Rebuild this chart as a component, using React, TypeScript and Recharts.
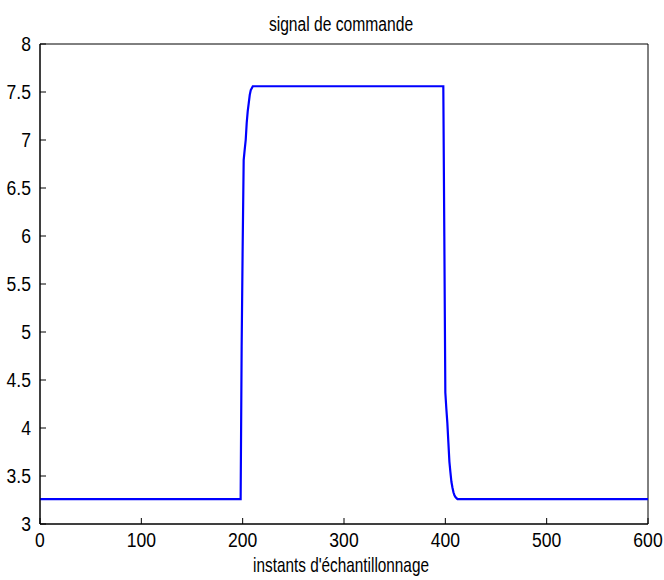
import React from 'react';
import { LineChart, Line, XAxis, YAxis, ReferenceArea } from 'recharts';

// sample instants (breakpoints of the control signal) and values
const sampleInstants = [
  0, 198, 199, 200, 201, 202, 203, 204, 205, 206, 207, 208, 209, 210,
  398, 399, 400, 401, 402, 403, 404, 405, 406, 407, 408, 409, 410, 411, 412, 600,
];
const commandValues = [
  3.26, 3.26, 4.85, 5.89, 6.79, 6.9, 7.0, 7.18, 7.3, 7.385, 7.47, 7.52, 7.54, 7.56,
  7.56, 6.0, 4.37, 4.2, 4.05, 3.85, 3.65, 3.54, 3.44, 3.38, 3.33, 3.3, 3.28, 3.27, 3.26, 3.26,
];
const xTicks = [0, 100, 200, 300, 400, 500, 600];
const yTicks = [3, 3.5, 4, 4.5, 5, 5.5, 6, 6.5, 7, 7.5, 8];
const chartTitle = 'signal de commande';
const xAxisTitle = "instants d'échantillonnage";

const data = sampleInstants.map((n, i) => ({ n, u: commandValues[i] }));

const FONT = "'Liberation Sans', Arial, sans-serif";
const AXIS = '#000';
const TICK_LEN = 6;
const M = 9;

const BottomTick = (p: any) => {
  const { x, y, payload } = p;
  return (
    <g>
      <line x1={x} y1={y - M} x2={x} y2={y - M - TICK_LEN} stroke={AXIS} />
      <text
        transform={`translate(${x},${y + 14}) scale(0.9,1)`}
        textAnchor="middle"
        fontFamily={FONT}
        fontSize={19.5}
        fill="#000"
      >
        {String(payload.value)}
      </text>
    </g>
  );
};

const LeftTick = (p: any) => {
  const { x, y, payload } = p;
  return (
    <g>
      <line x1={x + M} y1={y} x2={x + M + TICK_LEN} y2={y} stroke={AXIS} />
      <text
        transform={`translate(${x},${y + 7}) scale(0.9,1)`}
        textAnchor="end"
        fontFamily={FONT}
        fontSize={19.5}
        fill="#000"
      >
        {String(payload.value)}
      </text>
    </g>
  );
};

const TopTick = (p: any) => {
  const { x, y } = p;
  return <line x1={x} y1={y + M} x2={x} y2={y + M + TICK_LEN} stroke={AXIS} />;
};

const RightTick = (p: any) => {
  const { x, y } = p;
  return <line x1={x - M} y1={y} x2={x - M - TICK_LEN} y2={y} stroke={AXIS} />;
};

export default function App() {
  return (
    <div style={{ position: 'absolute', left: 0, top: 0, width: 664, height: 580, background: '#fff' }}>
      <LineChart
        width={664}
        height={580}
        data={data}
        margin={{ top: 44, right: 16, bottom: 26, left: 8 }}
      >
        <XAxis
          xAxisId="b"
          dataKey="n"
          type="number"
          domain={[0, 600]}
          ticks={xTicks}
          interval={0}
          allowDataOverflow
          height={30}
          tickSize={0}
          tickMargin={M}
          tickLine={false}
          axisLine={{ stroke: AXIS }}
          tick={(p: any) => <BottomTick {...p} />}
        />
        <XAxis
          xAxisId="t"
          orientation="top"
          dataKey="n"
          type="number"
          domain={[0, 600]}
          ticks={xTicks}
          interval={0}
          height={0}
          tickSize={0}
          tickMargin={M}
          tickLine={false}
          axisLine={{ stroke: AXIS }}
          tick={(p: any) => <TopTick {...p} />}
        />
        <YAxis
          yAxisId="l"
          type="number"
          domain={[3, 8]}
          ticks={yTicks}
          interval={0}
          allowDataOverflow
          width={32}
          tickSize={0}
          tickMargin={M}
          tickLine={false}
          axisLine={{ stroke: AXIS }}
          tick={(p: any) => <LeftTick {...p} />}
        />
        <YAxis
          yAxisId="r"
          orientation="right"
          type="number"
          domain={[3, 8]}
          ticks={yTicks}
          interval={0}
          width={0}
          tickSize={0}
          tickMargin={M}
          tickLine={false}
          axisLine={{ stroke: AXIS }}
          tick={(p: any) => <RightTick {...p} />}
        />
        <ReferenceArea
          xAxisId="b"
          yAxisId="l"
          x1={0}
          x2={600}
          y1={3}
          y2={8}
          fill="none"
          fillOpacity={0}
          stroke={AXIS}
          strokeWidth={1}
          ifOverflow="visible"
        />
        <Line
          xAxisId="b"
          yAxisId="l"
          type="linear"
          dataKey="u"
          stroke="#0000ff"
          strokeWidth={2.2}
          dot={false}
          activeDot={false}
          isAnimationActive={false}
        />
      </LineChart>
      <svg
        width={664}
        height={580}
        style={{ position: 'absolute', left: 0, top: 0, pointerEvents: 'none' }}
      >
        <text
          transform="translate(341,31) scale(0.745,1)"
          textAnchor="middle"
          fontFamily={FONT}
          fontSize={21}
          fill="#000"
        >
          {chartTitle}
        </text>
        <text
          transform="translate(341,572) scale(0.73,1)"
          textAnchor="middle"
          fontFamily={FONT}
          fontSize={21}
          fill="#000"
        >
          {xAxisTitle}
        </text>
      </svg>
    </div>
  );
}
